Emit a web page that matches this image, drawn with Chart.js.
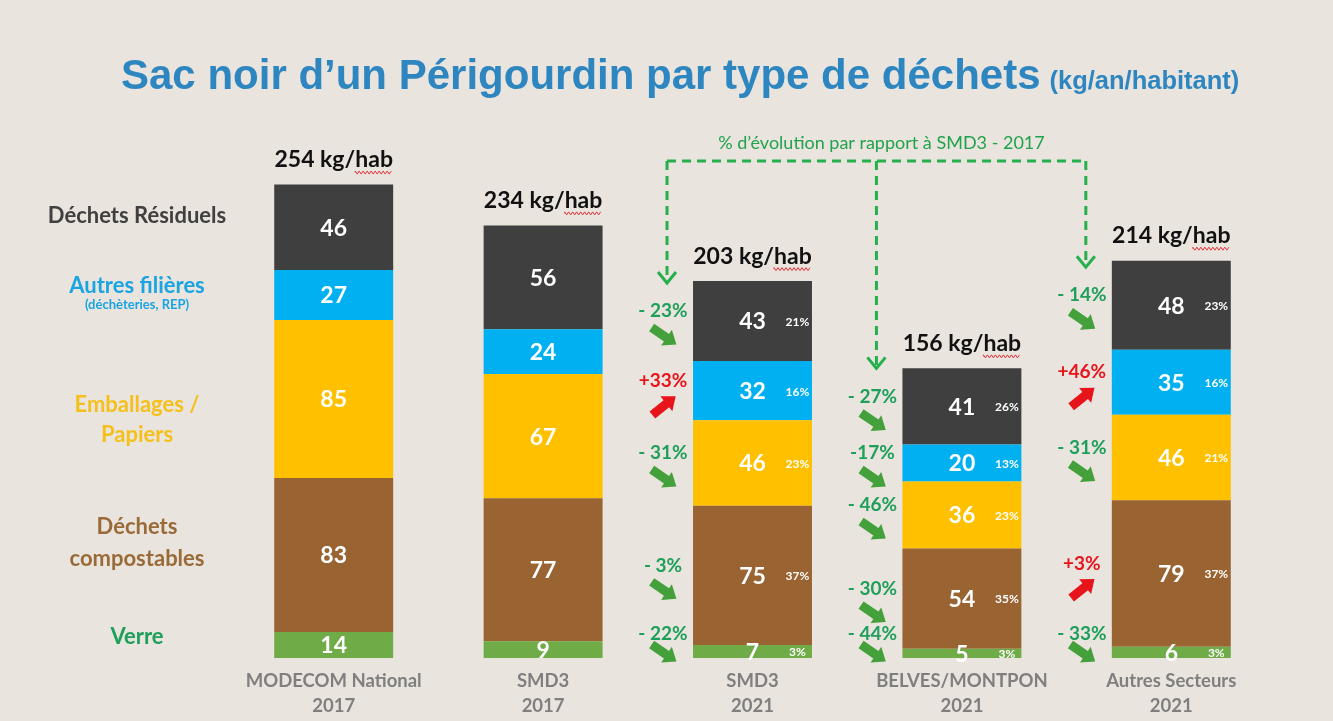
<!DOCTYPE html>
<html><head><meta charset="utf-8">
<script src="https://cdn.jsdelivr.net/npm/chart.js@4.4.0/dist/chart.umd.min.js"></script>
<style>html,body{margin:0;padding:0;background:#e9e4dd;overflow:hidden}</style>
</head><body>
<canvas id="c" width="1333" height="721" style="display:block;width:1333px;height:721px"></canvas>
<script>
// ---- data ----
const categories = [["MODECOM National","2017"],["SMD3","2017"],["SMD3","2021"],["BELVES/MONTPON","2021"],["Autres Secteurs","2021"]];
const totals = [254, 234, 203, 156, 214];
const verre = [14, 9, 7, 5, 6];
const compostables = [83, 77, 75, 54, 79];
const emballages = [85, 67, 46, 36, 46];
const autresFilieres = [27, 24, 32, 20, 35];
const residuels = [46, 56, 43, 41, 48];
const pctVerre = [null, null, 3, 3, 3];
const pctCompostables = [null, null, 37, 35, 37];
const pctEmballages = [null, null, 23, 23, 21];
const pctAutres = [null, null, 16, 13, 16];
const pctResiduels = [null, null, 21, 26, 23];
const evoVerre = [null, null, "- 22%", "- 44%", "- 33%"];
const evoCompostables = [null, null, "- 3%", "- 30%", "+3%"];
const evoEmballages = [null, null, "- 31%", "- 46%", "- 31%"];
const evoAutres = [null, null, "+33%", "-17%", "+46%"];
const evoResiduels = [null, null, "- 23%", "- 27%", "- 14%"];
const totalUnit = " kg/hab";
const titleMain = "Sac noir d\u2019un Périgourdin par type de déchets";
const titleSub = "(kg/an/habitant)";
const evoCaption = "% d\u2019évolution par rapport à SMD3 - 2017";

const FONT = 'Lato, "Open Sans", sans-serif';
const TFONT = '"Liberation Sans", Arial, sans-serif';

function blockArrow(ctx, cx, cy, ang, len, color){
  ctx.save(); ctx.translate(cx, cy); ctx.rotate(ang);
  const L = len/2, hl = 12, sw = 4.5, hw = 9.5;
  ctx.beginPath();
  ctx.moveTo(-L, -sw); ctx.lineTo(L-hl, -sw); ctx.lineTo(L-hl, -hw); ctx.lineTo(L, 0);
  ctx.lineTo(L-hl, hw); ctx.lineTo(L-hl, sw); ctx.lineTo(-L, sw); ctx.closePath();
  ctx.fillStyle = color; ctx.fill(); ctx.restore();
}

const bgPlugin = {
  id: 'bg',
  beforeDraw(chart){
    const c = chart.ctx; c.save();
    c.fillStyle = '#e9e4dd'; c.fillRect(0,0,chart.width,chart.height);
    c.restore();
  }
};

const annot = {
  id: 'annot',
  afterDatasetsDraw(chart){
    const ctx = chart.ctx, ca = chart.chartArea;
    const dsets = chart.data.datasets;
    const metas = dsets.map((d,i)=>chart.getDatasetMeta(i));
    ctx.save();

    // title
    ctx.textAlign = 'left'; ctx.textBaseline = 'alphabetic';
    ctx.fillStyle = '#2e86c1';
    ctx.font = 'bold 42px ' + TFONT;
    ctx.fillText(titleMain, 121, 89);
    const w1 = ctx.measureText(titleMain).width;
    ctx.font = 'bold 25.5px ' + TFONT;
    ctx.fillText(titleSub, 121 + w1 + 9, 89);

    ctx.textAlign = 'center'; ctx.textBaseline = 'middle';
    // segment values + shares
    dsets.forEach((ds, di) => {
      metas[di].data.forEach((bar, i) => {
        const p = bar.getProps(['x','y','base','width'], true);
        const mid = (p.y + p.base)/2;
        ctx.fillStyle = '#ffffff';
        ctx.font = 'bold 23px ' + FONT;
        ctx.fillText(String(ds.data[i]), p.x, mid + 1);
        if (ds.pct[i] != null){
          ctx.font = 'bold 12px ' + FONT;
          ctx.fillText(ds.pct[i] + '%', p.x + 45, mid + 1);
        }
      });
    });

    // totals above bars
    const topMeta = metas[metas.length-1];
    topMeta.data.forEach((bar, i) => {
      const p = bar.getProps(['x','y'], true);
      const ty = p.y - 25;
      const txt = totals[i] + totalUnit;
      ctx.font = 'bold 23px ' + FONT;
      ctx.fillStyle = '#111111';
      ctx.fillText(txt, p.x, ty);
      const w = ctx.measureText(txt).width;
      const wh = ctx.measureText('hab').width;
      ctx.beginPath(); ctx.strokeStyle = '#e0303a'; ctx.lineWidth = 1;
      let sx = p.x + w/2 - wh, ex = p.x + w/2, yy = ty + 13, k = 0;
      ctx.moveTo(sx, yy);
      for (let xx = sx; xx <= ex; xx += 2){ ctx.lineTo(xx, yy + (k++%2 ? 1.5 : -1.5)); }
      ctx.stroke();
    });

    // evolution labels + arrows
    const firstEvoY = {};
    dsets.forEach((ds, di) => {
      metas[di].data.forEach((bar, i) => {
        const lab = ds.evo[i]; if (!lab) return;
        const p = bar.getProps(['x','y','base','width'], true);
        const left = p.x - p.width/2;
        const mid = (p.y + p.base)/2;
        let ty, ay;
        if (di === 0){ ty = p.base - 24; ay = p.base - 5; }
        else { ty = mid - 10; ay = ty + 25; }
        const up = lab.trim().startsWith('+');
        const tx = left - 30;
        ctx.font = 'bold 19px ' + FONT;
        ctx.fillStyle = up ? '#e8141c' : '#1e9f5a';
        ctx.fillText(lab, tx, ty);
        blockArrow(ctx, tx + 1, ay, up ? -0.68 : 0.6, 30, up ? '#e8141c' : '#43a03a');
        if (di === dsets.length-1) firstEvoY[i] = {ty, left};
      });
    });

    // dashed connector
    const keys = Object.keys(firstEvoY).map(Number).sort((a,b)=>a-b);
    if (keys.length){
      const hy = ca.top + 60;
      const xs = keys.map(k => firstEvoY[k].left - 26);
      ctx.strokeStyle = '#26b04d'; ctx.lineWidth = 3; ctx.setLineDash([9,6]);
      ctx.beginPath(); ctx.moveTo(xs[0], hy); ctx.lineTo(xs[xs.length-1], hy); ctx.stroke();
      keys.forEach((k, j) => {
        const tip = firstEvoY[k].ty - 28;
        ctx.setLineDash([9,6]);
        ctx.beginPath(); ctx.moveTo(xs[j], hy); ctx.lineTo(xs[j], tip - 2); ctx.stroke();
        ctx.setLineDash([]);
        ctx.beginPath(); ctx.moveTo(xs[j]-9, tip-11); ctx.lineTo(xs[j], tip); ctx.lineTo(xs[j]+9, tip-11); ctx.stroke();
      });
      ctx.setLineDash([]);
      ctx.font = '18px ' + FONT; ctx.fillStyle = '#22a24c';
      ctx.fillText(evoCaption, (xs[0] + xs[xs.length-1])/2 + 5, hy - 18);
    }

    // left legend, anchored on first bar segments
    const lx = ca.left - 92;
    dsets.forEach((ds, di) => {
      const bar = metas[di].data[0];
      const p = bar.getProps(['y','base'], true);
      const mid = (p.y + p.base)/2;
      ds.legendLines.forEach(l => {
        ctx.font = 'bold ' + l.size + 'px ' + FONT;
        ctx.fillStyle = ds.legendColor;
        ctx.fillText(l.t, lx, mid + l.dy);
      });
    });
    ctx.restore();
  }
};

function build(){
  new Chart(document.getElementById('c'), {
    type: 'bar',
    data: {
      labels: categories,
      datasets: [
        {label:'Verre', data: verre, backgroundColor:'#6fab46', pct: pctVerre, evo: evoVerre,
          legendColor:'#1e9f5a', legendLines:[{t:'Verre', size:22, dy:-8}]},
        {label:'Déchets compostables', data: compostables, backgroundColor:'#9a6332', pct: pctCompostables, evo: evoCompostables,
          legendColor:'#9a6a38', legendLines:[{t:'Déchets', size:22, dy:-28},{t:'compostables', size:22, dy:4}]},
        {label:'Emballages / Papiers', data: emballages, backgroundColor:'#ffc000', pct: pctEmballages, evo: evoEmballages,
          legendColor:'#f5c01c', legendLines:[{t:'Emballages /', size:22, dy:6},{t:'Papiers', size:22, dy:36}]},
        {label:'Autres filières', data: autresFilieres, backgroundColor:'#00b0f0', pct: pctAutres, evo: evoAutres,
          legendColor:'#1aa4e2', legendLines:[{t:'Autres filières', size:22, dy:-9},{t:'(déchèteries, REP)', size:13, dy:10}]},
        {label:'Déchets Résiduels', data: residuels, backgroundColor:'#3f3f3f', pct: pctResiduels, evo: evoResiduels,
          legendColor:'#404040', legendLines:[{t:'Déchets Résiduels', size:22, dy:-11}]}
      ]
    },
    options: {
      responsive: false, animation: false, devicePixelRatio: 1,
      layout: {padding: {left: 229, right: 57, top: 101, bottom: 0}},
      datasets: {bar: {categoryPercentage: 1, barPercentage: 0.568}},
      plugins: {legend: {display: false}, tooltip: {enabled: false}, title: {display: false}},
      scales: {
        x: {stacked: true, grid: {display: false}, border: {display: false},
            ticks: {color: '#7f7f7f', autoSkip: false, maxRotation: 0, padding: 3,
                    font: {family: FONT, weight: 'bold', size: 18.5, lineHeight: 1.35}},
            afterFit: (s) => { s.height = 63; }},
        y: {stacked: true, display: false, min: 0, max: 300}
      }
    },
    plugins: [bgPlugin, annot]
  });
}
if (document.fonts && document.fonts.load){
  Promise.all(['bold 20px Lato','20px Lato','bold 42px "Liberation Sans"'].map(f=>document.fonts.load(f).catch(()=>null))).then(build, build);
} else build();
</script>
</body></html>
